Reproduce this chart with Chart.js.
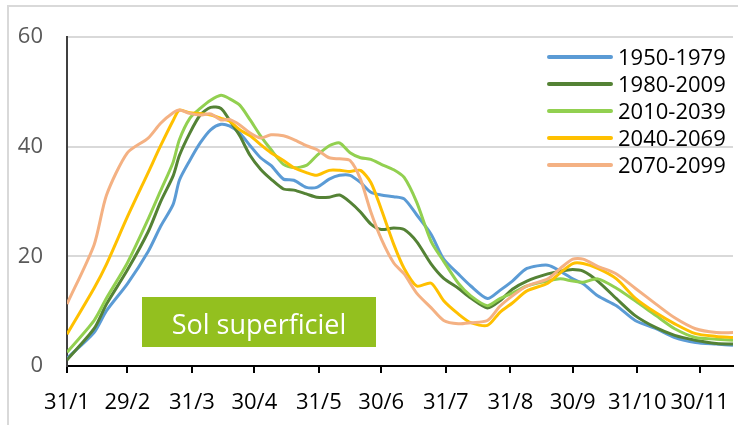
<!DOCTYPE html>
<html>
<head>
<meta charset="utf-8">
<script src="https://cdn.jsdelivr.net/npm/chart.js@4.4.1/dist/chart.umd.min.js"></script>
<style>
  body { margin: 0; background: #fff; }
  #wrap { position: relative; width: 738px; height: 425px; }
  #frame { position: absolute; left: 7px; top: 5px; right: 0; bottom: 0;
           border-top: 2px solid #d9d9d9; border-left: 2px solid #d9d9d9; pointer-events: none; }
</style>
</head>
<body>
<div id="wrap">
  <canvas id="myChart"></canvas>
  <div id="frame"></div>
</div>
<script>
// day of year (31/1 = 31), read every ~10 px off the picture
const days = [31, 44, 50, 60, 70, 76, 82, 85, 90, 95, 100, 105, 109, 114, 119, 124, 129, 135, 140, 146,
  151, 157, 162, 167, 172, 177, 182, 188, 193, 199, 206, 212, 219, 225, 233, 239, 245, 252, 262, 268,
  274, 279, 286, 295, 304, 314, 323, 333, 343, 351];

const s1950 = [1.4, 6.1, 10.1, 15.0, 20.9, 25.5, 29.5, 33.9, 37.5, 40.7, 43.1, 44.1, 43.8, 42.5, 40.2, 38.0, 36.6, 34.1, 33.9, 32.6,
  32.6, 34.1, 34.8, 34.8, 33.5, 31.7, 31.2, 30.9, 30.5, 27.6, 24.0, 19.5, 16.8, 14.6, 12.3, 13.8, 15.5, 17.8, 18.4, 17.3,
  15.9, 15.0, 12.8, 11.0, 8.3, 6.8, 5.2, 4.3, 4.0, 3.8];
const s1980 = [1.1, 6.8, 11.3, 17.5, 24.5, 30.0, 34.7, 38.4, 42.5, 45.8, 47.2, 47.0, 44.9, 42.0, 38.4, 35.9, 34.1, 32.3, 32.1, 31.4,
  30.8, 30.8, 31.2, 29.9, 28.1, 25.9, 24.9, 25.2, 24.9, 22.7, 18.6, 16.0, 14.2, 12.4, 10.6, 11.9, 14.0, 15.5, 16.8, 17.3,
  17.6, 17.3, 15.5, 12.3, 9.2, 7.0, 5.6, 4.7, 4.1, 4.0];
const s2010 = [2.5, 8.3, 12.4, 18.8, 26.8, 32.0, 37.2, 41.3, 45.2, 47.0, 48.5, 49.4, 48.8, 47.6, 44.9, 42.0, 39.5, 36.8, 36.2, 36.6,
  38.4, 40.2, 40.7, 38.9, 38.0, 37.7, 36.8, 35.8, 34.4, 29.9, 22.7, 19.1, 15.1, 12.8, 11.0, 12.3, 13.3, 14.6, 15.5, 15.9,
  15.5, 15.3, 15.9, 14.2, 11.9, 9.2, 6.8, 5.2, 4.9, 4.7];
const s2040 = [5.8, 14.2, 18.6, 27.2, 35.3, 40.2, 44.8, 46.7, 46.2, 46.1, 45.8, 45.2, 44.7, 43.1, 42.0, 40.4, 38.9, 37.5, 36.2, 35.3,
  34.8, 35.7, 35.7, 35.5, 35.7, 33.5, 28.6, 22.2, 17.8, 14.6, 15.1, 11.9, 9.5, 7.9, 7.4, 9.8, 11.5, 13.7, 15.1, 17.0,
  18.7, 18.7, 17.8, 15.9, 12.4, 9.7, 7.7, 5.9, 5.4, 5.2];
const s2070 = [11.3, 22.1, 31.2, 38.9, 41.6, 44.3, 46.2, 46.7, 46.1, 45.8, 46.0, 44.9, 45.0, 44.0, 42.5, 41.6, 42.2, 42.0, 41.3, 40.2,
  39.5, 38.0, 37.8, 37.5, 34.1, 28.1, 23.2, 18.8, 16.8, 13.3, 10.6, 8.3, 7.7, 7.9, 8.3, 10.9, 12.8, 14.6, 15.9, 17.8,
  19.5, 19.5, 18.2, 16.8, 14.2, 11.3, 8.8, 6.8, 6.1, 6.1];

const seriesNames = ['1950-1979', '1980-2009', '2010-2039', '2040-2069', '2070-2099'];
const seriesColors = ['#5B9BD5', '#548235', '#92D050', '#FFC000', '#F4B183'];
const seriesValues = [s1950, s1980, s2010, s2040, s2070];

const tickDays = [31, 60, 91, 121, 152, 182, 213, 244, 274, 305, 335];
const tickLabels = ['31/1', '29/2', '31/3', '30/4', '31/5', '30/6', '31/7', '31/8', '30/9', '31/10', '30/11'];
const yTicks = [0, 20, 40, 60];

const boxText = 'Sol superficiel';
const FONT = '"Open Sans", sans-serif';

const datasets = seriesValues.map(function (vals, i) {
  return {
    label: seriesNames[i],
    data: days.map(function (d, j) { return { x: d, y: vals[j] }; }),
    borderColor: seriesColors[i],
    borderWidth: 3,
    pointRadius: 0,
    tension: 0.25,
    fill: false,
    order: seriesValues.length - i // last series on top, like excel
  };
});

// green label box + legend drawn over the plot
const overlay = {
  id: 'overlay',
  afterDraw: function (chart) {
    const ctx = chart.ctx;
    ctx.save();
    ctx.fillStyle = '#93C01F';
    ctx.fillRect(142, 297, 234, 50);
    ctx.fillStyle = '#ffffff';
    ctx.font = '27px ' + FONT;
    ctx.textAlign = 'center';
    ctx.textBaseline = 'alphabetic';
    ctx.fillText(boxText, 259, 334);

    ctx.font = '22px ' + FONT;
    ctx.textAlign = 'left';
    chart.data.datasets.forEach(function (ds, i) {
      const y = 57 + i * 27;
      ctx.strokeStyle = ds.borderColor;
      ctx.lineWidth = 4;
      ctx.lineCap = 'round';
      ctx.beginPath();
      ctx.moveTo(549, y);
      ctx.lineTo(611, y);
      ctx.stroke();
      ctx.fillStyle = '#000000';
      ctx.fillText(ds.label, 618, y + 8);
    });
    ctx.restore();
  }
};

const myChart = new Chart(document.getElementById('myChart'), {
  type: 'line',
  data: { datasets: datasets },
  plugins: [overlay],
  options: {
    responsive: true,
    maintainAspectRatio: false,
    animation: false,
    layout: { padding: { top: 33, right: 5, left: 0, bottom: 0 } },
    scales: {
      x: {
        type: 'linear',
        min: 31,
        max: 351,
        afterBuildTicks: function (scale) {
          scale.ticks = tickDays.map(function (v) { return { value: v }; });
        },
        afterFit: function (scale) {
          scale.height = 59;
          // labels never reach the edges, so no extra side padding
          scale.paddingLeft = 0;
          scale.paddingRight = 0;
        },
        ticks: {
          autoSkip: false,
          maxRotation: 0,
          minRotation: 0,
          padding: 17,
          color: '#000000',
          font: { family: FONT, size: 22 },
          callback: function (value) { return tickLabels[tickDays.indexOf(value)]; }
        },
        grid: { drawOnChartArea: false, drawTicks: true, tickLength: 7, color: '#000000', lineWidth: 2 },
        border: { display: true, color: '#000000', width: 2 }
      },
      y: {
        min: 0,
        max: 60,
        afterBuildTicks: function (scale) {
          scale.ticks = yTicks.map(function (v) { return { value: v }; });
        },
        afterFit: function (scale) { scale.width = 67; },
        ticks: {
          padding: 24,
          color: '#595959',
          font: { family: FONT, size: 22 }
        },
        grid: { color: '#d9d9d9', lineWidth: 2, drawTicks: false },
        border: { display: true, color: '#404040', width: 2 }
      }
    },
    plugins: {
      legend: { display: false },
      tooltip: { enabled: false }
    }
  }
});
</script>
</body>
</html>
